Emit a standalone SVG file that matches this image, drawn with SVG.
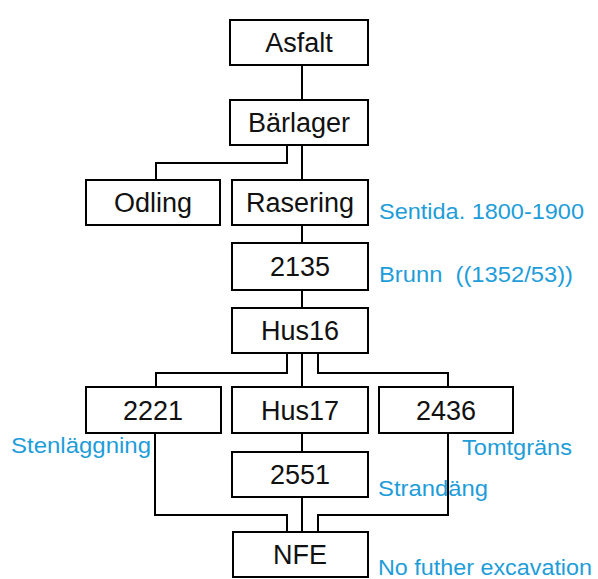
<svg xmlns="http://www.w3.org/2000/svg" width="598" height="579" viewBox="0 0 598 579">
<style>
.box rect{fill:#fff;stroke:#000;stroke-width:2}
.box text{font-family:"Liberation Sans",Arial,sans-serif;font-size:27px;fill:#111;text-anchor:middle}
.lbl{font-family:"Liberation Sans",Arial,sans-serif;font-size:22px;fill:#1e9dd9}
#connectors path{fill:none;stroke:#000;stroke-width:2}
</style>
<rect width="598" height="579" fill="#fff"/>
<g id="connectors">
<path d="M302,65V100"/>
<path d="M302,145V180"/>
<path d="M287,145V163H156V180"/>
<path d="M302,225V243"/>
<path d="M302,290V308"/>
<path d="M302,353V388"/>
<path d="M287,353V373H156V388"/>
<path d="M318,353V373H448V388"/>
<path d="M302,433V452"/>
<path d="M302,497V532"/>
<path d="M155,433V515H287V532"/>
<path d="M448,433V515H318V532"/>
</g>
<g id="asfalt" class="box"><rect x="230" y="20" width="138" height="45"/><text x="299" y="52">Asfalt</text></g>
<g id="barlager" class="box"><rect x="230" y="100" width="138" height="45"/><text x="299" y="132">Bärlager</text></g>
<g id="odling" class="box"><rect x="86" y="180" width="134" height="45"/><text x="153" y="212">Odling</text></g>
<g id="rasering" class="box"><rect x="232" y="180" width="136" height="45"/><text x="300" y="212">Rasering</text></g>
<g id="n2135" class="box"><rect x="232" y="243" width="136" height="47"/><text x="300" y="276">2135</text></g>
<g id="hus16" class="box"><rect x="232" y="308" width="136" height="45"/><text x="300" y="340">Hus16</text></g>
<g id="n2221" class="box"><rect x="86" y="387" width="135" height="46"/><text x="153" y="420">2221</text></g>
<g id="hus17" class="box"><rect x="232" y="387" width="136" height="46"/><text x="300" y="420">Hus17</text></g>
<g id="n2436" class="box"><rect x="379" y="387" width="134" height="46"/><text x="446" y="420">2436</text></g>
<g id="n2551" class="box"><rect x="232" y="452" width="136" height="45"/><text x="300" y="484">2551</text></g>
<g id="nfe" class="box"><rect x="233" y="532" width="135" height="45"/><text x="300" y="564">NFE</text></g>
<text class="lbl" x="379" y="219" textLength="205" lengthAdjust="spacingAndGlyphs">Sentida. 1800-1900</text>
<text class="lbl" x="379" y="282" textLength="194" lengthAdjust="spacingAndGlyphs" xml:space="preserve">Brunn  ((1352/53))</text>
<text class="lbl" x="11" y="453" textLength="140" lengthAdjust="spacingAndGlyphs">Stenläggning</text>
<text class="lbl" x="462" y="455" textLength="110" lengthAdjust="spacingAndGlyphs">Tomtgräns</text>
<text class="lbl" x="378" y="496" textLength="110" lengthAdjust="spacingAndGlyphs">Strandäng</text>
<text class="lbl" x="378" y="575" textLength="214" lengthAdjust="spacingAndGlyphs">No futher excavation</text>
</svg>
